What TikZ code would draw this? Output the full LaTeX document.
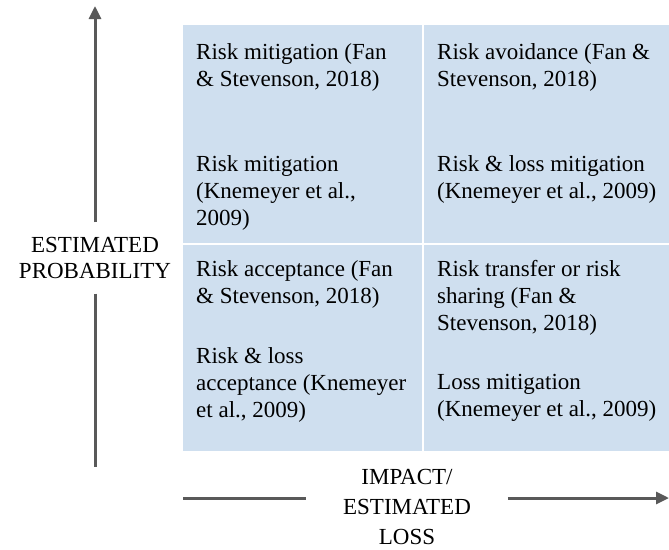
\documentclass[tikz,border=0pt]{standalone}
\usepackage{fontspec}
\setmainfont{Liberation Serif}
\usetikzlibrary{arrows.meta}
\definecolor{cellblue}{RGB}{207,223,239}
\definecolor{axisgray}{RGB}{89,89,89}
\tikzset{
	cell/.style={anchor=north west,inner sep=0pt,align=left,font=\fontsize{23}{27}\selectfont},
	axislabel/.style={inner sep=0pt,align=center},
	axisline/.style={axisgray,line width=3pt},
}
\begin{document}
\begin{tikzpicture}[x=1pt,y=-1pt,>={Triangle[length=13pt,width=12pt]}]
		\useasboundingbox (0,0) rectangle (669,549);
		% quadrants
		\fill[cellblue] (183,25) rectangle (669,451);
		\draw[white,line width=2pt] (423,25)--(423,451) (183,244)--(669,244);
		\node[cell] (hilo1) at (196,43.5) {Risk mitigation (Fan\\\& Stevenson, 2018)};
		\node[cell] (hilo2) at (196,155.5) {Risk mitigation\\(Knemeyer et al.,\\2009)};
		\node[cell] (hihi1) at (437,43.5) {Risk avoidance (Fan \&\\Stevenson, 2018)};
		\node[cell] (hihi2) at (437,155.5) {Risk \& loss mitigation\\(Knemeyer et al., 2009)};
		\node[cell] (lolo1) at (196,260.5) {Risk acceptance (Fan\\\& Stevenson, 2018)};
		\node[cell] (lolo2) at (196,347.5) {Risk \& loss\\acceptance (Knemeyer\\et al., 2009)};
		\node[cell] (lohi1) at (437,260.5) {Risk transfer or risk\\sharing (Fan \&\\Stevenson, 2018)};
		\node[cell] (lohi2) at (437,374.5) {Loss mitigation\\(Knemeyer et al., 2009)};
		% axes
		\node[axislabel,font=\fontsize{23}{26}\selectfont,outer ysep=15pt] (ylab) at (95,258) {ESTIMATED\\PROBABILITY};
		\node[axislabel,font=\fontsize{23}{30}\selectfont,outer xsep=37pt] (xlab) at (407,507) {IMPACT/\\ESTIMATED\\LOSS};
		\coordinate (ytip) at (95,6);
		\coordinate (ybot) at (95,467);
		\coordinate (xleft) at (183,498);
		\coordinate (xtip) at (669,498);
		\draw[axisline,->] (ylab.north)--(ytip);
		\draw[axisline] (ylab.south)--(ybot);
		\draw[axisline] (xleft)--(xleft-|xlab.west);
		\draw[axisline,->] (xtip-|xlab.east)--(xtip);
\end{tikzpicture}
\end{document}
